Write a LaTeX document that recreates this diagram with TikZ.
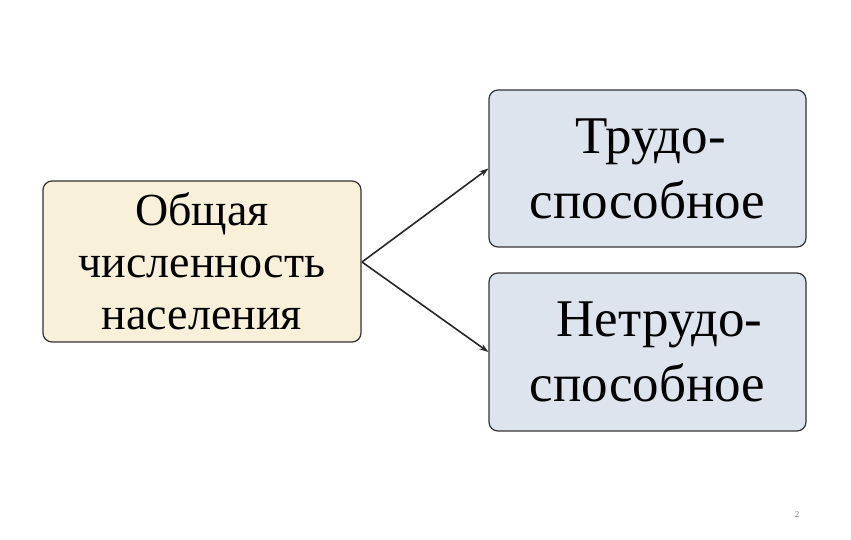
\documentclass[tikz,border=0pt]{standalone}
\usepackage{fontspec}
\setmainfont{Liberation Serif}
\usetikzlibrary{arrows.meta}
\definecolor{cream}{HTML}{F8F0D8}
\definecolor{bluegray}{HTML}{DEE4EE}
\begin{document}
\begin{tikzpicture}[x=1pt,y=-1pt,
  box/.style={draw=black!80,line width=1.2pt,rounded corners=9pt,inner sep=0pt,align=center},
  conn/.style={draw=black!85,line width=1.6pt,-{Stealth[length=9pt,width=6pt]}}]
\useasboundingbox (0,0) rectangle (851,540);
\node[box,fill=cream,minimum width=318pt,minimum height=161pt,font=\fontsize{46}{52}\selectfont] (a) at (202,261.5) {Общая\\численность\\населения};
\node[box,fill=bluegray,minimum width=317pt,minimum height=157pt,font=\fontsize{53}{65}\selectfont] (b) at (647.5,168.5) {\hspace*{6pt}Трудо-\\способное};
\node[box,fill=bluegray,minimum width=317pt,minimum height=158pt,font=\fontsize{53}{65}\selectfont] (c) at (647.5,352) {\hspace*{24pt}Нетрудо-\\способное};
\coordinate (s) at (362,262);
\draw[conn] (s) -- (b.west);
\draw[conn] (s) -- (c.west);
\node[font=\fontsize{9}{10}\selectfont,text=black!50] (n) at (797,515) {2};
\end{tikzpicture}
\end{document}
